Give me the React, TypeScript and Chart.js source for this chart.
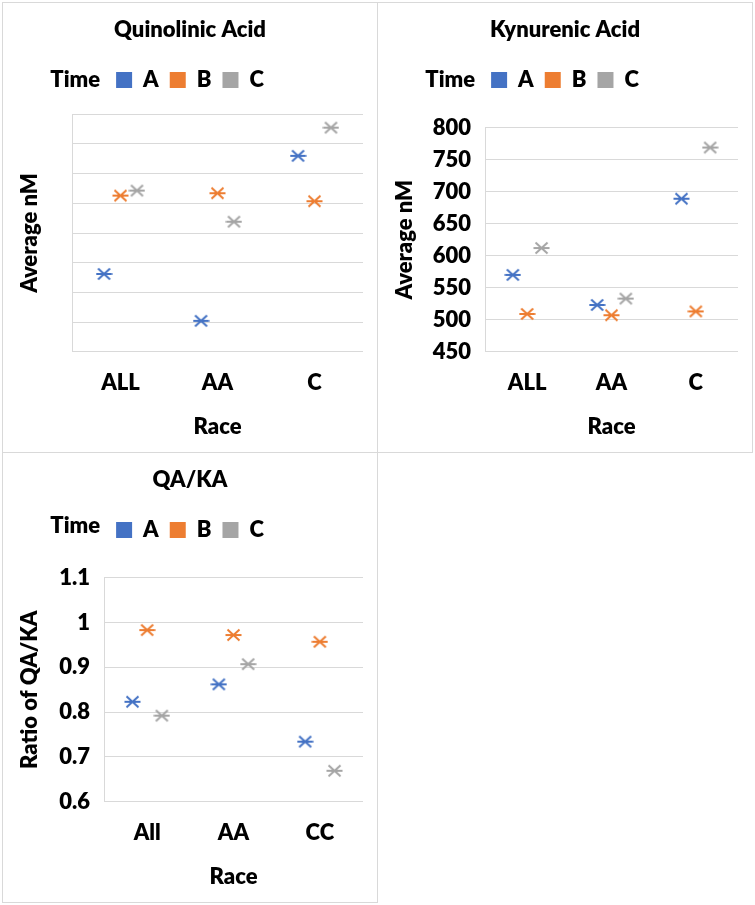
import React, { useEffect, useRef } from 'react';
import { Chart, registerables } from 'chart.js';

Chart.register(...registerables);

// ---------- data ----------
const timeLabels = ['A', 'B', 'C'];
const seriesColors = ['#4472C4', '#ED7D31', '#A5A5A5'];

const qaCategories = ['ALL', 'AA', 'C'];
const qaTimeA = [466.2, 450.4, 506.0];
const qaTimeB = [492.6, 493.4, 490.7];
const qaTimeC = [494.3, 483.8, 515.5];
const qaTicks = [440, 450, 460, 470, 480, 490, 500, 510, 520];

const kaCategories = ['ALL', 'AA', 'C'];
const kaTimeA = [570, 523, 689];
const kaTimeB = [509, 507, 513];
const kaTimeC = [612, 533, 769];
const kaTicks = [450, 500, 550, 600, 650, 700, 750, 800];

const ratioCategories = ['All', 'AA', 'CC'];
const ratioTimeA = [0.823, 0.862, 0.734];
const ratioTimeB = [0.983, 0.972, 0.957];
const ratioTimeC = [0.792, 0.907, 0.669];
const ratioTicks = [0.6, 0.7, 0.8, 0.9, 1, 1.1];

// ---------- styling ----------
const FONT = 'Lato';
const FS = 22;
const FW = '800';
const GRID = '#d9d9d9';
const SPREAD = 0.17;

function makeMarker(color: string) {
  const c = document.createElement('canvas');
  c.width = 17;
  c.height = 14;
  const g = c.getContext('2d')!;
  g.strokeStyle = color;
  g.lineWidth = 2;
  g.beginPath();
  g.moveTo(0.5, 7);
  g.lineTo(16.5, 7);
  g.moveTo(2.5, 1.5);
  g.lineTo(14.5, 12.5);
  g.moveTo(2.5, 12.5);
  g.lineTo(14.5, 1.5);
  g.stroke();
  return c;
}

const legendPrefix = {
  id: 'legendPrefix',
  afterDraw(chart: any, _args: any, opts: any) {
    const lg = chart.legend;
    const hb = lg && lg.legendHitBoxes && lg.legendHitBoxes[0];
    if (!hb || !opts || !opts.text) return;
    const ctx = chart.ctx;
    ctx.save();
    ctx.font = `${FW} ${FS}px ${FONT}`;
    ctx.fillStyle = '#000';
    ctx.textAlign = 'right';
    ctx.textBaseline = 'middle';
    ctx.fillText(opts.text, hb.left - opts.gap, hb.top + hb.height / 2 + (opts.dy || 0));
    ctx.restore();
  },
};

type PanelSpec = {
  title: string;
  yTitle: string;
  categories: string[];
  series: number[][];
  ticks: number[];
  showTicks: boolean;
  yWidth: number;
  spacer: number;
  timeDy: number;
};

function buildConfig(p: PanelSpec): any {
  const datasets = p.series.map((vals, si) => ({
    label: timeLabels[si],
    data: vals.map((v, ci) => ({ x: ci + (si - 1) * SPREAD, y: v })),
    pointStyle: makeMarker(seriesColors[si]),
    backgroundColor: seriesColors[si],
    borderColor: seriesColors[si],
    showLine: false,
  }));
  const font = { family: FONT, size: FS, weight: FW as any };
  return {
    type: 'scatter',
    data: { datasets },
    plugins: [legendPrefix],
    options: {
      animation: false,
      responsive: false,
      events: [],
      layout: { padding: 0 },
      scales: {
        x: {
          type: 'linear',
          min: -0.5,
          max: p.categories.length - 0.5,
          afterBuildTicks: (s: any) => {
            s.ticks = p.categories.map((_, i) => ({ value: i }));
          },
          afterFit: (s: any) => {
            s.height = 100.3;
          },
          ticks: {
            callback: (v: number) => p.categories[Math.round(v)] ?? '',
            padding: 18,
            font,
            color: '#000',
            maxRotation: 0,
          },
          grid: { display: false, drawTicks: false },
          border: { display: false },
          title: {
            display: true,
            text: 'Race',
            font,
            color: '#000',
            padding: { top: 0, bottom: 11.8 },
          },
        },
        y: {
          type: 'linear',
          min: p.ticks[0],
          max: p.ticks[p.ticks.length - 1],
          afterBuildTicks: (s: any) => {
            s.ticks = p.ticks.map((v) => ({ value: v }));
          },
          afterFit: (s: any) => {
            s.width = p.yWidth;
          },
          ticks: {
            display: p.showTicks,
            callback: (v: number) => String(Number(v.toFixed(2))),
            padding: 14,
            font,
            color: '#000',
          },
          grid: { color: GRID, lineWidth: 1, drawTicks: false },
          border: { display: true, color: GRID, width: 1 },
          title: {
            display: true,
            text: p.yTitle,
            font,
            color: '#000',
            padding: { top: 13.8, bottom: 0 },
          },
        },
        // empty right-hand spacer so that full-width title/legend stay centred on the panel
        yRight: {
          type: 'linear',
          position: 'right',
          display: true,
          min: 0,
          max: 1,
          afterFit: (s: any) => {
            s.width = 14;
          },
          ticks: { display: false },
          grid: { display: false, drawTicks: false },
          border: { display: false },
          title: { display: false },
        },
      },
      plugins: {
        title: {
          display: true,
          text: p.title,
          font,
          color: '#000',
          padding: { top: 14, bottom: 14.6 },
        },
        subtitle: {
          display: true,
          text: ' ',
          weight: 100,
          font: { size: 1, lineHeight: 1 },
          padding: { top: 0, bottom: p.spacer },
        },
        legend: {
          display: true,
          position: 'top',
          labels: {
            boxWidth: 16,
            boxHeight: 16,
            padding: 11,
            font,
            color: '#000',
            generateLabels: (chart: any) =>
              chart.data.datasets.map((ds: any, i: number) => ({
                text: ds.label,
                fillStyle: seriesColors[i],
                strokeStyle: seriesColors[i],
                lineWidth: 0,
                hidden: false,
                datasetIndex: i,
                fontColor: '#000',
              })),
          },
        },
        legendPrefix: { text: 'Time', gap: 16, dy: p.timeDy },
        tooltip: { enabled: false },
      },
    },
  };
}

function ChartPanel({ spec, left, top }: { spec: PanelSpec; left: number; top: number }) {
  const ref = useRef<HTMLCanvasElement | null>(null);
  useEffect(() => {
    let chart: Chart | null = null;
    let cancelled = false;
    const make = () => {
      if (cancelled || !ref.current) return;
      chart = new Chart(ref.current, buildConfig(spec));
    };
    if ((document as any).fonts && (document as any).fonts.load) {
      (document as any).fonts.load(`${FW} ${FS}px ${FONT}`).then(make, make);
    } else {
      make();
    }
    return () => {
      cancelled = true;
      if (chart) chart.destroy();
    };
  }, [spec]);
  return (
    <div
      style={{
        position: 'absolute',
        left,
        top,
        width: 376,
        height: 451,
        border: `1px solid ${GRID}`,
        boxSizing: 'border-box',
        background: '#fff',
      }}
    >
      <canvas ref={ref} width={374} height={449} style={{ display: 'block', width: 374, height: 449 }} />
    </div>
  );
}

const qaSpec: PanelSpec = {
  title: 'Quinolinic Acid',
  yTitle: 'Average nM',
  categories: qaCategories,
  series: [qaTimeA, qaTimeB, qaTimeC],
  ticks: qaTicks,
  showTicks: false,
  yWidth: 69,
  spacer: 12.3,
  timeDy: 0,
};

const kaSpec: PanelSpec = {
  title: 'Kynurenic Acid',
  yTitle: 'Average nM',
  categories: kaCategories,
  series: [kaTimeA, kaTimeB, kaTimeC],
  ticks: kaTicks,
  showTicks: true,
  yWidth: 107,
  spacer: 25.7,
  timeDy: 0,
};

const ratioSpec: PanelSpec = {
  title: 'QA/KA',
  yTitle: 'Ratio of QA/KA',
  categories: ratioCategories,
  series: [ratioTimeA, ratioTimeB, ratioTimeC],
  ticks: ratioTicks,
  showTicks: true,
  yWidth: 101,
  spacer: 25.7,
  timeDy: -4,
};

export default function App() {
  return (
    <div style={{ position: 'absolute', left: 0, top: 0, width: 755, height: 905, background: '#fff' }}>
      <ChartPanel spec={qaSpec} left={2} top={2} />
      <ChartPanel spec={kaSpec} left={377} top={2} />
      <ChartPanel spec={ratioSpec} left={2} top={452} />
    </div>
  );
}
